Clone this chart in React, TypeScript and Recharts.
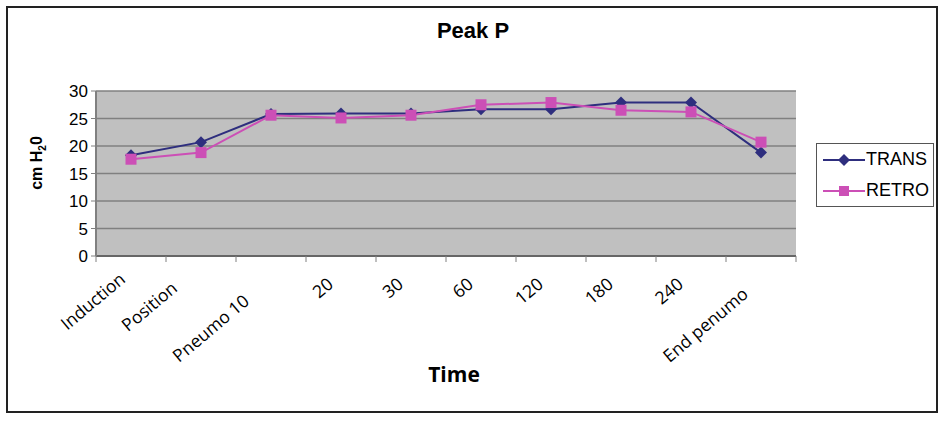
import { LineChart, Line, XAxis, YAxis, CartesianGrid, Legend } from 'recharts'

const timePoints = ['Induction', 'Position', 'Pneumo 10', '20', '30', '60', '120', '180', '240', 'End penumo']
const transValues = [18.3, 20.7, 25.8, 25.9, 25.9, 26.7, 26.7, 27.9, 27.9, 18.8]
const retroValues = [17.6, 18.8, 25.6, 25.1, 25.6, 27.5, 27.9, 26.5, 26.2, 20.7]
const yTicks = [0, 5, 10, 15, 20, 25, 30]

const TRANS_COLOR = '#2E2E7E'
const RETRO_COLOR = '#CC4FB6'
const AXIS_GRAY = '#808080'

const W = 946
const H = 421
const PLOT_LEFT = 96
const PLOT_RIGHT = 796
const BAND = (PLOT_RIGHT - PLOT_LEFT) / timePoints.length

// Excel staggers the rotated labels a bit, keep those nudges here
const labelNudge: Record<string, [number, number]> = {
  Induction: [-13, 19],
  Position: [-31, 28],
  'Pneumo 10': [-29, 41],
  'End penumo': [-20, 34],
}

const data = timePoints.map((t, i) => ({
  time: t,
  TRANS: transValues[i],
  RETRO: retroValues[i],
}))

function DiamondDot(props: any) {
  const { cx, cy } = props
  if (cx == null || cy == null) return null
  const r = 6
  return (
    <path
      d={`M${cx},${cy - r} L${cx + r},${cy} L${cx},${cy + r} L${cx - r},${cy} Z`}
      fill={TRANS_COLOR}
    />
  )
}

function SquareDot(props: any) {
  const { cx, cy } = props
  if (cx == null || cy == null) return null
  const s = 11
  return <rect x={cx - s / 2} y={cy - s / 2} width={s} height={s} fill={RETRO_COLOR} />
}

function TimeTick(props: any) {
  const { x, y, payload, index } = props
  const [dx, dy] = labelNudge[payload.value] ?? [-15, 24]
  const last = index === timePoints.length - 1
  return (
    <g>
      <line x1={x - BAND / 2} y1={y} x2={x - BAND / 2} y2={y + 6} stroke={AXIS_GRAY} />
      {last && <line x1={x + BAND / 2} y1={y} x2={x + BAND / 2} y2={y + 6} stroke={AXIS_GRAY} />}
      <text
        x={0}
        y={0}
        dy="0.75em"
        textAnchor="end"
        transform={`translate(${x + dx},${y + dy - 4}) rotate(-40)`}
        fontFamily="'Open Sans', sans-serif"
        fontSize={17.5}
        fill="#000"
      >
        {payload.value}
      </text>
    </g>
  )
}

function LegendBox() {
  const items = [
    { name: 'TRANS', color: TRANS_COLOR, dot: 'diamond' },
    { name: 'RETRO', color: RETRO_COLOR, dot: 'square' },
  ]
  return (
    <div
      style={{
        border: '1px solid #555',
        background: '#fff',
        padding: '0 0 0 6px',
        width: 118,
        height: 64,
        boxSizing: 'border-box',
      }}
    >
      {items.map((it) => (
        <div key={it.name} style={{ display: 'flex', alignItems: 'center', height: 31 }}>
          <svg width={42} height={14}>
            <line x1={0} y1={7} x2={42} y2={7} stroke={it.color} strokeWidth={2} />
            {it.dot === 'diamond' ? (
              <path d="M21,1 L27,7 L21,13 L15,7 Z" fill={it.color} />
            ) : (
              <rect x={16} y={2} width={10} height={10} fill={it.color} />
            )}
          </svg>
          <span
            style={{
              fontFamily: "'Liberation Sans', Arial, sans-serif",
              fontSize: 18,
              marginLeft: 1,
              color: '#000',
            }}
          >
            {it.name}
          </span>
        </div>
      ))}
    </div>
  )
}

export default function App() {
  return (
    <div style={{ position: 'fixed', left: 0, top: 0, width: W, height: H, background: '#fff' }}>
      <div
        style={{
          position: 'absolute',
          left: 6,
          top: 6,
          width: 932,
          height: 407,
          border: '2px solid #222',
          boxSizing: 'border-box',
        }}
      />
      <div
        style={{
          position: 'absolute',
          left: 0,
          width: W,
          top: 18,
          textAlign: 'center',
          fontFamily: "'Liberation Sans', Arial, sans-serif",
          fontWeight: 'bold',
          fontSize: 22,
        }}
      >
        Peak P
      </div>
      <LineChart
        width={W}
        height={H}
        data={data}
        margin={{ top: 91, right: W - PLOT_RIGHT, bottom: 105, left: PLOT_LEFT - 60 }}
        style={{ position: 'absolute', left: 0, top: 0 }}
      >
        <CartesianGrid vertical={false} stroke={AXIS_GRAY} strokeWidth={1.5} fill="#C0C0C0" />
        <XAxis
          dataKey="time"
          scale="band"
          height={60}
          interval={0}
          tickSize={0}
          tickMargin={0}
          tickLine={false}
          axisLine={{ stroke: '#666', strokeWidth: 2 }}
          tick={<TimeTick />}
          label={{
            content: (p: any) => {
              const vb = p.viewBox
              return (
                <text
                  x={vb.x + vb.width / 2 + 8}
                  y={vb.y + 126}
                  textAnchor="middle"
                  fontFamily="'Open Sans', sans-serif"
                  fontWeight="bold"
                  fontSize={21}
                  fill="#000"
                >
                  Time
                </text>
              )
            },
          }}
        />
        <YAxis
          width={60}
          domain={[0, 30]}
          ticks={yTicks}
          interval={0}
          tickSize={5}
          tickMargin={3}
          axisLine={{ stroke: AXIS_GRAY, strokeWidth: 2 }}
          tickLine={{ stroke: AXIS_GRAY }}
          tick={{ fill: '#000', fontSize: 17, fontFamily: "'Liberation Sans', Arial, sans-serif" }}
          label={{
            content: (p: any) => {
              const vb = p.viewBox
              const cx = vb.x + 6
              const cy = 163
              return (
                <text
                  transform={`translate(${cx},${cy}) rotate(-90)`}
                  textAnchor="middle"
                  fontFamily="'Liberation Sans', Arial, sans-serif"
                  fontWeight="bold"
                  fontSize={16}
                  fill="#000"
                >
                  cm H
                  <tspan fontSize={10} dy={4}>2</tspan>
                  <tspan dy={-4}>0</tspan>
                </text>
              )
            },
          }}
        />
        <YAxis
          yAxisId="edge"
          orientation="right"
          width={0}
          domain={[0, 30]}
          tick={false}
          tickLine={false}
          axisLine={{ stroke: AXIS_GRAY, strokeWidth: 2 }}
        />
        <Legend
          layout="vertical"
          align="center"
          verticalAlign="middle"
          wrapperStyle={{ left: 816, top: 143, width: 118 }}
          content={() => <LegendBox />}
        />
        <Line
          type="linear"
          dataKey="TRANS"
          stroke={TRANS_COLOR}
          strokeWidth={2}
          dot={<DiamondDot />}
          activeDot={false}
          isAnimationActive={false}
        />
        <Line
          type="linear"
          dataKey="RETRO"
          stroke={RETRO_COLOR}
          strokeWidth={2}
          dot={<SquareDot />}
          activeDot={false}
          isAnimationActive={false}
        />
      </LineChart>
    </div>
  )
}
